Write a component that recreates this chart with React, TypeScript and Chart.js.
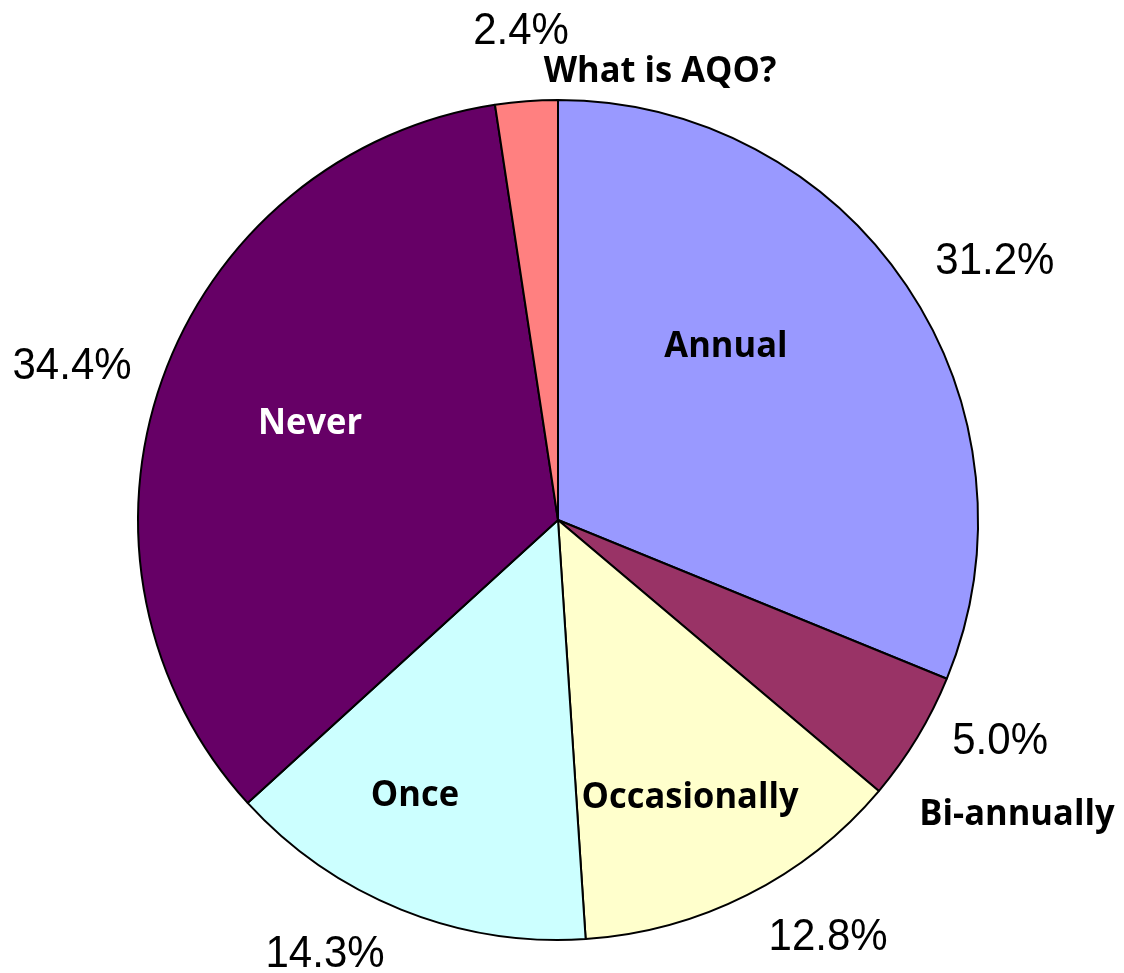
import React, { useEffect, useRef } from "react";
import { Chart, registerables } from "chart.js";

Chart.register(...registerables);

const categories = ["Annual", "Bi-annually", "Occasionally", "Once", "Never", "What is AQO?"];
const percentages = [31.2, 5.0, 12.8, 14.3, 34.4, 2.4];
const sliceColors = ["#9999FF", "#993366", "#FFFFCC", "#CCFFFF", "#660066", "#FF8080"];
const nameColors = ["#000000", "#000000", "#000000", "#000000", "#FFFFFF", "#000000"];

// label placement: radius factor (relative to pie radius) and angle offset (deg) from slice mid-angle
const pctRadius = [1.208, 1.178, 1.185, 1.175, 1.213, 1.165];
const pctAngle = [3.34, -4.53, -6.07, 6.23, -2.04, -0.02];
const nameRadius = [0.574, 1.299, 0.733, 0.74, 0.633, 1.094];
const nameAngle = [-11.94, 1.53, 1.39, 5.46, 1.65, 17.15];

const PCT_FONT = '42px "Liberation Sans", Arial, sans-serif';
const NAME_FONT = 'bold 34.5px "Open Sans", sans-serif';

const drawStretched = (ctx: any, text: string, x: number, y: number, sy: number) => {
  ctx.save();
  ctx.translate(x, y);
  ctx.scale(1, sy);
  ctx.fillText(text, 0, 0);
  ctx.restore();
};

const labelPlugin = {
  id: "sliceLabels",
  afterDraw(chart: any) {
    const ctx = chart.ctx;
    const meta = chart.getDatasetMeta(0);
    ctx.save();
    ctx.textAlign = "center";
    ctx.textBaseline = "middle";
    meta.data.forEach((arc: any, i: number) => {
      const p = arc.getProps(["x", "y", "startAngle", "endAngle", "outerRadius"], true);
      const mid = (p.startAngle + p.endAngle) / 2;
      const a1 = mid + (pctAngle[i] * Math.PI) / 180;
      const r1 = p.outerRadius * pctRadius[i];
      ctx.font = PCT_FONT;
      ctx.fillStyle = "#000000";
      drawStretched(ctx, percentages[i].toFixed(1) + "%", p.x + r1 * Math.cos(a1), p.y + r1 * Math.sin(a1), 1.07);
      const a2 = mid + (nameAngle[i] * Math.PI) / 180;
      const r2 = p.outerRadius * nameRadius[i];
      ctx.font = NAME_FONT;
      ctx.fillStyle = nameColors[i];
      drawStretched(ctx, categories[i], p.x + r2 * Math.cos(a2), p.y + r2 * Math.sin(a2), 1.05);
    });
    ctx.restore();
  },
};

export default function App() {
  const ref = useRef<HTMLCanvasElement>(null);
  useEffect(() => {
    let chart: Chart | null = null;
    let cancelled = false;
    const make = () => {
      if (cancelled || !ref.current) return;
      chart = new Chart(ref.current, {
        type: "pie",
        data: {
          labels: categories,
          datasets: [
            {
              data: percentages,
              backgroundColor: sliceColors,
              borderColor: "#000000",
              borderWidth: 2,
            },
          ],
        },
        options: {
          responsive: false,
          animation: false,
          layout: { padding: { left: 137, right: 145, top: 99, bottom: 32 } },
          plugins: { legend: { display: false }, tooltip: { enabled: false } },
        },
        plugins: [labelPlugin],
      });
    };
    Promise.all([
      document.fonts.load(PCT_FONT),
      document.fonts.load(NAME_FONT),
    ]).then(make, make);
    return () => {
      cancelled = true;
      if (chart) chart.destroy();
    };
  }, []);
  return (
    <div style={{ position: "fixed", left: 0, top: 0, width: 1124, height: 973, background: "#fff" }}>
      <canvas ref={ref} width={1124} height={973} />
    </div>
  );
}
